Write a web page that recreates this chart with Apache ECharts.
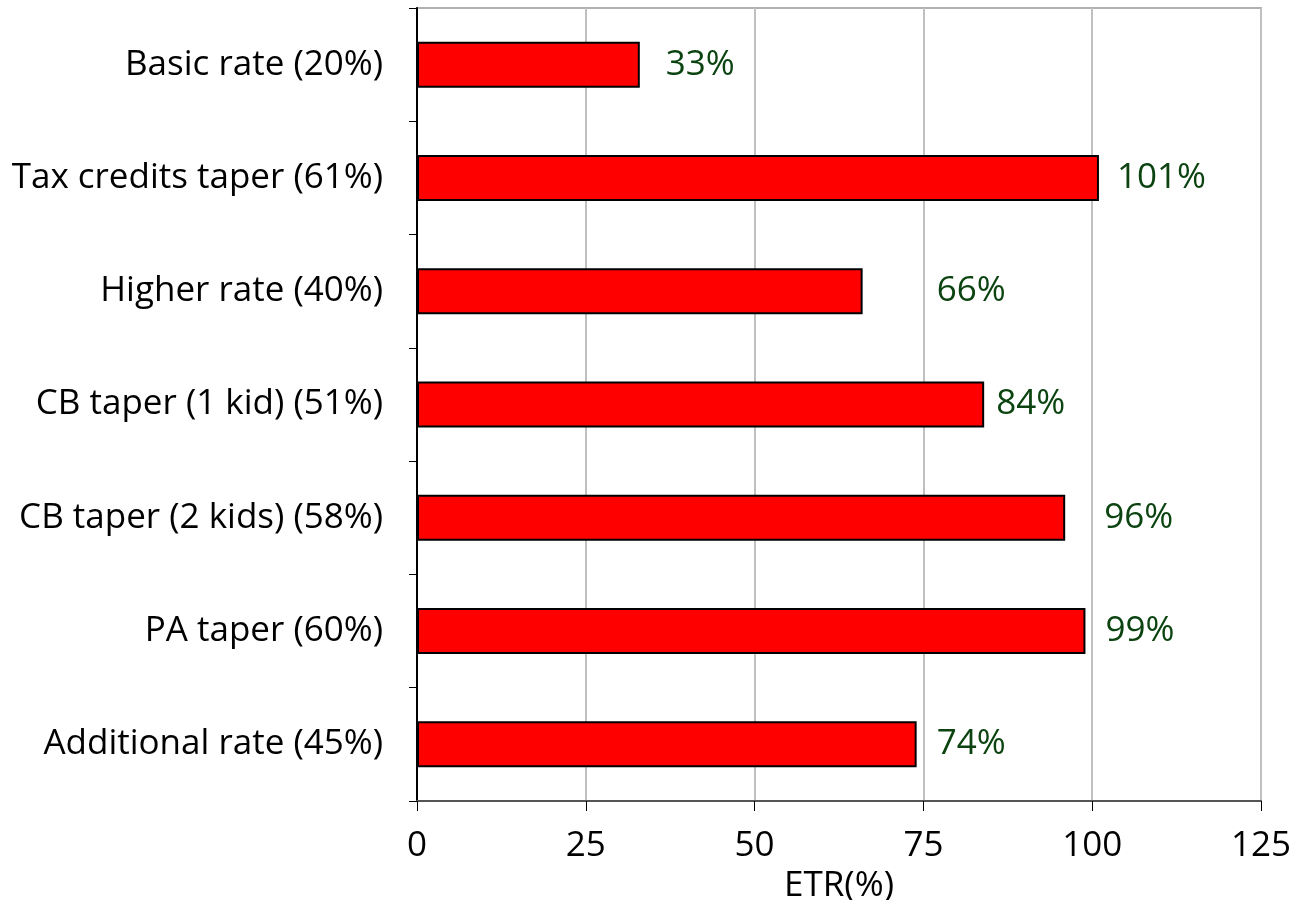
<!DOCTYPE html>
<html>
<head>
<meta charset="utf-8">
<script src="https://cdn.jsdelivr.net/npm/echarts@6/dist/echarts.min.js"></script>
<style>html,body{margin:0;padding:0;background:#fff}#c{width:1295px;height:900px}</style>
</head>
<body>
<div id="c"></div>
<script>
const categories = ["Basic rate (20%)", "Tax credits taper (61%)", "Higher rate (40%)", "CB taper (1 kid) (51%)", "CB taper (2 kids) (58%)", "PA taper (60%)", "Additional rate (45%)"];
const etrValues = [33, 101, 66, 84, 96, 99, 74];
const xTicks = [0, 25, 50, 75, 100, 125];

// label gap (px) after each bar end, as in the reference
const labelGaps = [26, 18, 74, 12, 39, 20, 20];

const chart = echarts.init(document.getElementById('c'));
const font = "'Open Sans', 'Noto Sans', sans-serif";
const fs = 35;
chart.setOption({
  animation: false,
  grid: { left: 417, right: 34, top: 8, bottom: 99, containLabel: false, outerBoundsMode: 'none', show: true, borderColor: '#b0b0b0', borderWidth: 2, backgroundColor: 'transparent' },
  xAxis: {
    type: 'value', min: xTicks[0], max: xTicks[xTicks.length - 1], interval: 25,
    name: 'ETR(%)', nameLocation: 'middle', nameGap: 62,
    nameTextStyle: { fontFamily: font, fontSize: fs, color: '#000' },
    axisLine: { show: true, lineStyle: { color: '#555', width: 2 } },
    axisTick: { show: true, inside: false, length: 10, lineStyle: { color: '#000', width: 1 } },
    axisLabel: { fontFamily: font, fontSize: fs, color: '#000', margin: 28 },
    splitLine: { show: true, lineStyle: { color: '#c0c0c0', width: 2 } }
  },
  yAxis: {
    type: 'category', data: categories, inverse: true,
    axisLine: { show: true, lineStyle: { color: '#000', width: 2 } },
    axisTick: { show: true, length: 8, alignWithLabel: false, lineStyle: { color: '#000', width: 1 } },
    axisLabel: { fontFamily: font, fontSize: fs, color: '#000', margin: 34 },
    splitLine: { show: false }
  },
  series: [{
    type: 'bar',
    data: etrValues.map((v, i) => ({
      value: v,
      label: { offset: [labelGaps[i], 0] }
    })),
    barWidth: 46,
    itemStyle: { color: '#ff0000', borderColor: '#000', borderWidth: 2 },
    label: {
      show: true, position: 'right', distance: 0,
      formatter: p => p.value + '%',
      fontFamily: font, fontSize: fs, color: '#0b4410'
    }
  }]
});
</script>
</body>
</html>
